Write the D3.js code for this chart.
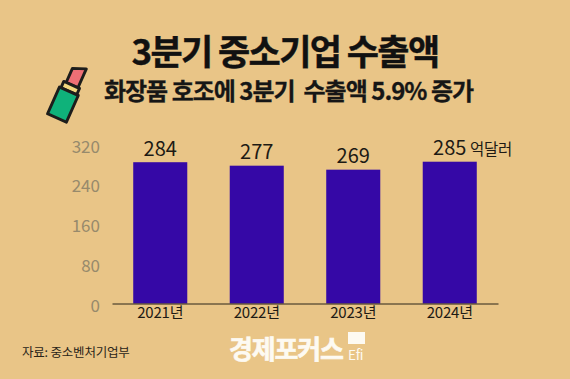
<!DOCTYPE html>
<html>
<head>
<meta charset="utf-8">
<style>
  html, body { margin: 0; padding: 0; background: #e9c587; }
  svg { display: block; }
  text { font-family: "Noto Sans CJK KR", "Noto Sans", sans-serif; }
</style>
<script src="https://cdn.jsdelivr.net/npm/d3@7"></script>
</head>
<body>
<div id="chart"></div>
<script>
const years = ['2021년', '2022년', '2023년', '2024년'];
const exports3q = [284, 277, 269, 285];
const yTicks = [0, 80, 160, 240, 320];

const chartWidth = 570;
const chartHeight = 379;
const baseline = 303.5;

const svg = d3.select('#chart')
    .append('svg')
    .attr('width', chartWidth)
    .attr('height', chartHeight);

svg.append('rect')
    .attr('width', chartWidth)
    .attr('height', chartHeight)
    .attr('fill', '#e9c587');

const xScale = d3.scaleBand()
    .domain(years)
    .range([112, 498])
    .paddingInner(0.44)
    .paddingOuter(0.22);

const yScale = d3.scaleLinear()
    .domain([0, 320])
    .range([baseline, 144.3]);

// titles
svg.append('text')
    .attr('x', 285)
    .attr('y', 65)
    .attr('text-anchor', 'middle')
    .attr('font-size', 35)
    .attr('font-weight', 700)
    .attr('letter-spacing', -1.6)
    .attr('stroke', '#111')
    .attr('stroke-width', 0.4)
    .attr('fill', '#111')
    .text('3분기 중소기업 수출액');

svg.append('text')
    .attr('x', 288.5)
    .attr('y', 100)
    .attr('text-anchor', 'middle')
    .attr('font-size', 24)
    .attr('font-weight', 700)
    .attr('letter-spacing', -1)
    .attr('stroke', '#161616')
    .attr('stroke-width', 0.3)
    .attr('fill', '#161616')
    .style('white-space', 'pre')
    .text('화장품 호조에 3분기  수출액 5.9% 증가');

// lipstick icon
const icon = svg.append('g')
    .attr('transform', 'translate(68.5,92) rotate(24) scale(0.86)')
    .attr('stroke', '#1d1d1b')
    .attr('stroke-width', 3.4)
    .attr('stroke-linejoin', 'round');

icon.append('path')
    .attr('d', 'M-7,-9 L-7,-27 L8,-33 L8,-9 Z')
    .attr('fill', '#ee6f75');
icon.append('rect')
    .attr('x', -10).attr('y', -9).attr('width', 20).attr('height', 8)
    .attr('fill', '#f2d77e');
icon.append('rect')
    .attr('x', -12).attr('y', -1).attr('width', 24).attr('height', 34)
    .attr('fill', '#0fb27a');

// y axis labels, no axis line
const yAxis = d3.axisLeft(yScale)
    .tickValues(yTicks)
    .tickSize(0)
    .tickPadding(0);

const yG = svg.append('g')
    .attr('class', 'y-axis')
    .attr('transform', 'translate(100,0)')
    .call(yAxis);
yG.select('.domain').remove();
yG.selectAll('text')
    .attr('dy', '0.72em')
    .attr('transform', 'translate(0,-4.5)')
    .attr('font-size', 17)
    .attr('fill', '#978a6c')
    .style('font-family', '"Noto Sans CJK KR", sans-serif');

// bars
svg.append('g')
    .selectAll('rect')
    .data(exports3q)
    .enter()
    .append('rect')
    .attr('x', (d, i) => xScale(years[i]))
    .attr('y', d => yScale(d))
    .attr('width', xScale.bandwidth())
    .attr('height', d => baseline - yScale(d))
    .attr('fill', '#3508a6');

// value labels
svg.append('g')
    .selectAll('text')
    .data(exports3q)
    .enter()
    .append('text')
    .attr('x', (d, i) => xScale(years[i]) + xScale.bandwidth() / 2)
    .attr('y', d => yScale(d) - 6.5)
    .attr('text-anchor', 'middle')
    .attr('font-size', 20)
    .attr('fill', '#1d1a14')
    .text(d => d);

svg.append('text')
    .attr('x', 470)
    .attr('y', 155)
    .attr('font-size', 15.5)
    .attr('letter-spacing', -0.3)
    .attr('fill', '#1d1a14')
    .text('억달러');

// x axis
const xAxis = d3.axisBottom(xScale)
    .tickSize(0)
    .tickPadding(4);

const xG = svg.append('g')
    .attr('class', 'x-axis')
    .attr('transform', 'translate(0,' + baseline + ')')
    .call(xAxis);
xG.select('.domain')
    .attr('stroke', '#2a2418')
    .attr('stroke-width', 1);
xG.selectAll('text')
    .attr('font-size', 15)
    .attr('letter-spacing', -0.2)
    .attr('fill', '#1d1a14')
    .style('font-family', '"Noto Sans CJK KR", sans-serif');

// source
svg.append('text')
    .attr('x', 22)
    .attr('y', 357)
    .attr('font-size', 12.5)
    .attr('letter-spacing', -0.2)
    .attr('fill', '#2a2418')
    .text('자료: 중소벤처기업부');

// logo
svg.append('text')
    .attr('x', 229)
    .attr('y', 358.5)
    .attr('font-size', 26)
    .attr('font-weight', 700)
    .attr('letter-spacing', -1.2)
    .attr('stroke', '#fdfaf2')
    .attr('stroke-width', 0.6)
    .attr('fill', '#fdfaf2')
    .text('경제포커스');

svg.append('rect')
    .attr('x', 348).attr('y', 332).attr('width', 17).attr('height', 12)
    .attr('fill', '#fdfaf2');
svg.append('text')
    .attr('x', 348)
    .attr('y', 359.5)
    .attr('font-size', 13.5)
    .attr('letter-spacing', -0.3)
    .attr('fill', '#fdfaf2')
    .text('Efi');
</script>
</body>
</html>
